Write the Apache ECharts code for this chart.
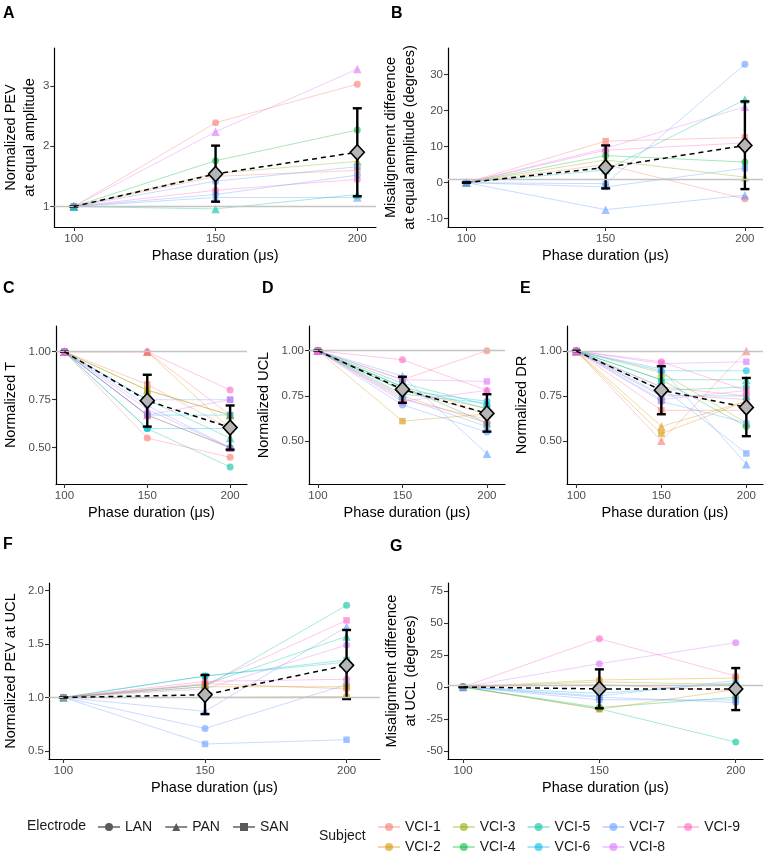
<!DOCTYPE html>
<html><head><meta charset="utf-8">
<script src="https://cdn.jsdelivr.net/npm/echarts@6/dist/echarts.min.js"></script>
<style>html,body{margin:0;padding:0;background:#fff}#c{width:767px;height:858px}</style>
</head><body><div id="c"></div>
<script>
// ---------- DATA ----------
const durations = [100, 150, 200];
const subjects = ['VCI-1','VCI-2','VCI-3','VCI-4','VCI-5','VCI-6','VCI-7','VCI-8','VCI-9'];
const subjectColors = ['#F8766D','#D39200','#93AA00','#00BA38','#00C19F','#00B9E3','#619CFF','#DB72FB','#FF61C3'];
const electrodes = ['LAN','PAN','SAN'];
const electrodeSymbols = ['circle','triangle','rect'];

// rows: [subject, electrode, value@100, value@150, value@200]
const panelA_lines = [
  ['VCI-1','LAN',1,2.39,3.03], ['VCI-8','PAN',1,2.24,3.28], ['VCI-4','LAN',1,1.76,2.27],
  ['VCI-3','PAN',1,1.55,1.75], ['VCI-1','SAN',1,1.50,1.60], ['VCI-7','SAN',1,1.42,1.66],
  ['VCI-9','LAN',1,1.27,1.45], ['VCI-7','LAN',1,1.20,1.52], ['VCI-7','PAN',1,1.15,1.15],
  ['VCI-5','PAN',1,0.96,1.20]
];
const panelA_mean = [1, 1.54, 1.90];
const panelA_low  = [1, 1.08, 1.17];
const panelA_high = [1, 2.01, 2.63];
const panelA_yticks = [1, 2, 3];

const panelB_lines = [
  ['VCI-1','SAN',0,11.5,12.5], ['VCI-8','PAN',0,9.5,21], ['VCI-9','LAN',0,9,11],
  ['VCI-4','LAN',0,7.5,5.7], ['VCI-3','PAN',0,6.3,1.5], ['VCI-1','LAN',0,5,-4.5],
  ['VCI-5','PAN',0,3.5,23], ['VCI-7','LAN',0,-0.3,32.8], ['VCI-7','SAN',0,-1.2,4],
  ['VCI-7','PAN',0,-7.5,-3.5]
];
const panelB_mean = [0, 4.2, 10.3];
const panelB_low  = [0, -1.6, -1.8];
const panelB_high = [0, 10.3, 22.5];
const panelB_yticks = [-10, 0, 10, 20, 30];

const panelC_lines = [
  ['VCI-1','LAN',1,0.55,0.45], ['VCI-1','SAN',1,0.83,0.60], ['VCI-1','PAN',1,1.00,0.67],
  ['VCI-2','SAN',1,0.80,0.67], ['VCI-2','PAN',1,1.00,0.60], ['VCI-3','PAN',1,0.80,0.67],
  ['VCI-4','LAN',1,0.67,0.50], ['VCI-5','LAN',1,0.60,0.40], ['VCI-5','PAN',1,0.75,0.55],
  ['VCI-6','LAN',1,0.60,0.60], ['VCI-6','SAN',1,0.67,0.67], ['VCI-7','SAN',1,0.75,0.75],
  ['VCI-7','LAN',1,0.72,0.50], ['VCI-8','SAN',1,0.67,0.75], ['VCI-8','PAN',1,0.70,0.50],
  ['VCI-9','LAN',1,1.00,0.80], ['VCI-9','PAN',1,0.67,0.50]
];
const panelC_mean = [1, 0.745, 0.605];
const panelC_low  = [1, 0.61, 0.49];
const panelC_high = [1, 0.88, 0.72];
const panelC_yticks = [0.5, 0.75, 1.0];

const panelD_lines = [
  ['VCI-1','LAN',1,0.84,1.00], ['VCI-1','SAN',1,0.78,0.65], ['VCI-2','SAN',1,0.61,0.65],
  ['VCI-2','PAN',1,0.75,0.60], ['VCI-3','PAN',1,0.78,0.68], ['VCI-4','LAN',1,0.80,0.60],
  ['VCI-5','LAN',1,0.82,0.70], ['VCI-5','PAN',1,0.80,0.68], ['VCI-6','LAN',1,0.78,0.72],
  ['VCI-6','PAN',1,0.76,0.71], ['VCI-7','LAN',1,0.70,0.55], ['VCI-7','PAN',1,0.86,0.43],
  ['VCI-7','SAN',1,0.74,0.58], ['VCI-8','SAN',1,0.84,0.83], ['VCI-8','PAN',1,0.72,0.78],
  ['VCI-9','LAN',1,0.95,0.78], ['VCI-9','PAN',1,0.73,0.62]
];
const panelD_mean = [1, 0.786, 0.653];
const panelD_low  = [1, 0.712, 0.552];
const panelD_high = [1, 0.856, 0.759];
const panelD_yticks = [0.5, 0.75, 1.0];

const panelE_lines = [
  ['VCI-1','PAN',1,0.50,1.00], ['VCI-1','SAN',1,0.67,0.67], ['VCI-1','LAN',1,0.80,0.75],
  ['VCI-2','SAN',1,0.54,0.72], ['VCI-2','PAN',1,0.58,0.72], ['VCI-3','PAN',1,0.88,0.60],
  ['VCI-4','LAN',1,0.84,0.58], ['VCI-5','LAN',1,0.78,0.80], ['VCI-5','PAN',1,0.84,0.84],
  ['VCI-6','LAN',1,0.89,0.89], ['VCI-6','PAN',1,0.75,0.75], ['VCI-7','LAN',1,0.72,0.60],
  ['VCI-7','PAN',1,0.90,0.37], ['VCI-7','SAN',1,0.80,0.43], ['VCI-8','SAN',1,0.93,0.94],
  ['VCI-8','PAN',1,0.73,0.78], ['VCI-9','LAN',1,0.94,0.78], ['VCI-9','PAN',1,0.76,0.73]
];
const panelE_mean = [1, 0.782, 0.686];
const panelE_low  = [1, 0.648, 0.526];
const panelE_high = [1, 0.915, 0.85];
const panelE_yticks = [0.5, 0.75, 1.0];

const panelF_lines = [
  ['VCI-5','LAN',1,1.10,1.86], ['VCI-9','SAN',1,1.12,1.72], ['VCI-7','PAN',1,0.87,1.66],
  ['VCI-5','PAN',1,1.12,1.57], ['VCI-8','LAN',1,1.08,1.49], ['VCI-5','SAN',1,1.20,1.35],
  ['VCI-6','LAN',1,1.20,1.33], ['VCI-9','LAN',1,1.15,1.17], ['VCI-7','LAN',1,0.71,1.12],
  ['VCI-1','LAN',1,1.13,1.08], ['VCI-2','SAN',1,1.10,1.10], ['VCI-2','LAN',1,1.00,1.01],
  ['VCI-7','SAN',1,0.565,0.605]
];
const panelF_mean = [1, 1.025, 1.30];
const panelF_low  = [1, 0.845, 0.985];
const panelF_high = [1, 1.21, 1.63];
const panelF_yticks = [0.5, 1.0, 1.5, 2.0];

const panelG_lines = [
  ['VCI-9','LAN',0,37.7,8.6], ['VCI-8','LAN',0,18.2,34.6], ['VCI-2','LAN',0,5.5,7],
  ['VCI-3','PAN',0,4,2], ['VCI-5','LAN',0,-17,-43], ['VCI-4','LAN',0,-16,-8],
  ['VCI-2','SAN',0,-17.4,-2], ['VCI-7','LAN',0,-8,-12], ['VCI-7','SAN',0,-10,-10],
  ['VCI-6','LAN',0,-5,3], ['VCI-1','LAN',0,2,-3], ['VCI-7','PAN',0,-7,5]
];
const panelG_mean = [0, -1.5, -1.5];
const panelG_low  = [0, -16.6, -18];
const panelG_high = [0, 13.8, 14.8];
const panelG_yticks = [-50, -25, 0, 25, 50, 75];

const referenceLevel = 1;

// ---------- LAYOUT ----------
const FONT = '"Liberation Sans", Arial, Helvetica, sans-serif';
const panels = [
  {key:'A', lines:panelA_lines, mean:panelA_mean, low:panelA_low, high:panelA_high, yticks:panelA_yticks, dec:0,
   grid:{left:49, top:48, width:327, height:179}, xr:[93.1,206.6], yr:[0.66,3.63],
   yname:'Normalized PEV\nat equal amplitude', ygap:12, letter:[3,6]},
  {key:'B', lines:panelB_lines, mean:panelB_mean, low:panelB_low, high:panelB_high, yticks:panelB_yticks, dec:0,
   grid:{left:448, top:48, width:315, height:179}, xr:[93.4,206.5], yr:[-12.3,37.3],
   yname:'Misalignement difference\nat equal amplitude (degrees)', ygap:29, letter:[391,6]},
  {key:'C', lines:panelC_lines, mean:panelC_mean, low:panelC_low, high:panelC_high, yticks:panelC_yticks, dec:2,
   grid:{left:51, top:326, width:196, height:158}, xr:[94.9,210.2], yr:[0.311,1.134],
   yname:'Normalized T', ygap:36, letter:[3,281]},
  {key:'D', lines:panelD_lines, mean:panelD_mean, low:panelD_low, high:panelD_high, yticks:panelD_yticks, dec:2,
   grid:{left:309, top:326, width:196, height:158}, xr:[94.7,210.7], yr:[0.262,1.137],
   yname:'Normalized UCL', ygap:36, letter:[262,281]},
  {key:'E', lines:panelE_lines, mean:panelE_mean, low:panelE_low, high:panelE_high, yticks:panelE_yticks, dec:2,
   grid:{left:567, top:326, width:196, height:158}, xr:[94.5,209.8], yr:[0.26,1.139],
   yname:'Normalized DR', ygap:36, letter:[520,281]},
  {key:'F', lines:panelF_lines, mean:panelF_mean, low:panelF_low, high:panelF_high, yticks:panelF_yticks, dec:1,
   grid:{left:44, top:583, width:336, height:176}, xr:[94.9,211.8], yr:[0.425,2.069],
   yname:'Normalized PEV at UCL', ygap:29, letter:[3,537]},
  {key:'G', lines:panelG_lines, mean:panelG_mean, low:panelG_low, high:panelG_high, yticks:panelG_yticks, dec:0,
   grid:{left:448, top:583, width:315, height:176}, xr:[94.5,210], yr:[-56.2,81.2],
   yname:'Misalignment difference\nat UCL (degrees)', ygap:28, letter:[390,539]}
];

const grids = [], xAxes = [], yAxes = [], series = [], graphics = [];

panels.forEach((p, gi) => {
  grids.push(Object.assign({containLabel:false}, p.grid));
  xAxes.push({
    type:'value', gridIndex:gi, min:p.xr[0], max:p.xr[1],
    axisLine:{show:true, onZero:false, lineStyle:{color:'#000', width:1.2}},
    axisTick:{show:true, customValues:durations, length:4, lineStyle:{color:'#333', width:1.1}},
    axisLabel:{customValues:durations, color:'#4d4d4d', fontSize:11.5, margin:6, fontFamily:FONT},
    splitLine:{show:false},
    name:'Phase duration (μs)', nameLocation:'middle', nameGap:21,
    nameTextStyle:{fontSize:14.5, color:'#000', fontFamily:FONT}
  });
  yAxes.push({
    type:'value', gridIndex:gi, min:p.yr[0], max:p.yr[1],
    axisLine:{show:true, onZero:false, lineStyle:{color:'#000', width:1.2}},
    axisTick:{show:true, customValues:p.yticks, length:4, lineStyle:{color:'#333', width:1.1}},
    axisLabel:{customValues:p.yticks, color:'#4d4d4d', fontSize:11.5, margin:5, fontFamily:FONT,
      formatter:(v)=>Number(v).toFixed(p.dec)},
    splitLine:{show:false},
    name:p.yname, nameLocation:'middle', nameGap:p.ygap,
    nameTextStyle:{fontSize:14.5, color:'#000', fontFamily:FONT, lineHeight:19}
  });
  series.push({
    type:'line', xAxisIndex:gi, yAxisIndex:gi, data:[], silent:true, z:1,
    markLine:{silent:true, symbol:'none', label:{show:false}, animation:false,
      lineStyle:{color:'#c4c4c4', width:1.3, type:'solid'}, data:[{yAxis:referenceLevel}]}
  });
  p.lines.forEach(r => {
    const si = subjects.indexOf(r[0]);
    const ei = electrodes.indexOf(r[1]);
    const col = subjectColors[si];
    series.push({
      type:'line', name:r[0] + ' ' + r[1], xAxisIndex:gi, yAxisIndex:gi, z:2, silent:true,
      data:durations.map((d, k) => [d, r[2 + k]]),
      symbol:electrodeSymbols[ei], symbolSize: ei === 1 ? 8.5 : (ei === 2 ? 6.5 : 7),
      lineStyle:{color:col, width:1, opacity:0.35},
      itemStyle:{color:col, opacity:0.6},
      emphasis:{disabled:true}
    });
  });
  series.push({
    type:'custom', xAxisIndex:gi, yAxisIndex:gi, z:4, silent:true,
    data:durations.map((d, k) => [d, p.low[k], p.high[k]]),
    encode:{x:0, y:[1, 2]},
    renderItem:(params, api) => {
      const x = api.value(0);
      const lo = api.coord([x, api.value(1)]);
      const hi = api.coord([x, api.value(2)]);
      const hw = 4.5;
      const st = {stroke:'#000', lineWidth:2.4};
      return {type:'group', children:[
        {type:'line', shape:{x1:hi[0], y1:hi[1], x2:lo[0], y2:lo[1]}, style:st},
        {type:'line', shape:{x1:hi[0]-hw, y1:hi[1], x2:hi[0]+hw, y2:hi[1]}, style:st},
        {type:'line', shape:{x1:lo[0]-hw, y1:lo[1], x2:lo[0]+hw, y2:lo[1]}, style:st}
      ]};
    }
  });
  series.push({
    type:'line', name:'mean ' + p.key, xAxisIndex:gi, yAxisIndex:gi, z:5, silent:true,
    data:durations.map((d, k) => k === 0 ? {value:[d, p.mean[k]], symbol:'none'} : [d, p.mean[k]]),
    symbol:'diamond', symbolSize:[14, 15],
    lineStyle:{color:'#000', width:1.5, type:[5, 4]},
    itemStyle:{color:'#b5b5b5', borderColor:'#000', borderWidth:1.6}
  });
  graphics.push({type:'text', left:p.letter[0], top:p.letter[1],
    style:{text:p.key, font:'bold 16px ' + FONT, fill:'#000'}});
});

electrodes.forEach((e, i) => {
  series.push({type:'line', name:e, xAxisIndex:0, yAxisIndex:0, data:[],
    symbol:electrodeSymbols[i], symbolSize:9,
    lineStyle:{color:'#8a8a8a', width:1}, itemStyle:{color:'#5a5a5a'}});
});
subjects.forEach((s, i) => {
  series.push({type:'line', name:s, xAxisIndex:0, yAxisIndex:0, data:[],
    symbol:'circle', symbolSize:9,
    lineStyle:{color:subjectColors[i], width:1, opacity:0.35},
    itemStyle:{color:subjectColors[i], opacity:0.6}});
});

graphics.push({type:'text', left:27, top:819, style:{text:'Electrode', font:'14px ' + FONT, fill:'#1a1a1a'}});
graphics.push({type:'text', left:319, top:829, style:{text:'Subject', font:'14px ' + FONT, fill:'#1a1a1a'}});

const legendCommon = {selectedMode:false, itemWidth:22, itemHeight:10, width:440, padding:0,
  textStyle:{fontSize:14, color:'#1a1a1a', fontFamily:FONT}};

const chart = echarts.init(document.getElementById('c'), null, {renderer:'canvas'});
chart.setOption({
  backgroundColor:'#fff',
  animation:false,
  grid:grids, xAxis:xAxes, yAxis:yAxes, series:series,
  graphic:graphics,
  legend:[
    Object.assign({}, legendCommon, {data:electrodes, left:97, top:820, itemGap:12}),
    Object.assign({}, legendCommon, {data:['VCI-1','VCI-3','VCI-5','VCI-7','VCI-9'], left:377, top:820, itemGap:11}),
    Object.assign({}, legendCommon, {data:['VCI-2','VCI-4','VCI-6','VCI-8'], left:377, top:840, itemGap:11})
  ]
});
</script></body></html>
